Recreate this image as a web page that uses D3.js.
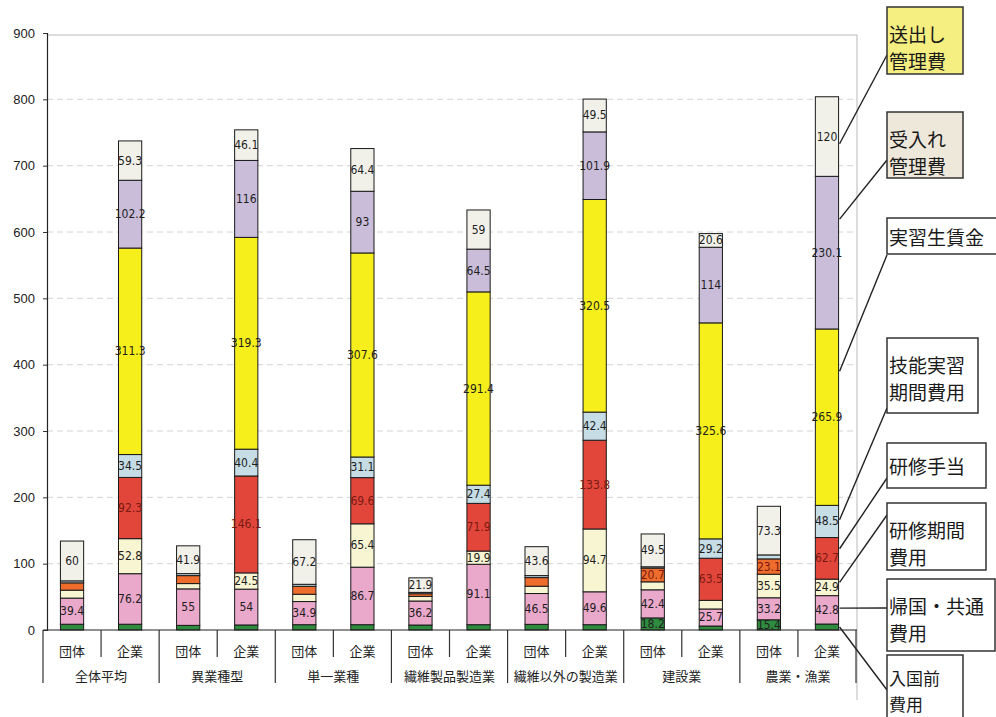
<!DOCTYPE html>
<html><head><meta charset="utf-8">
<script src="https://cdn.jsdelivr.net/npm/d3@7"></script>
<style>
html,body{margin:0;padding:0;background:#fff;}
svg{display:block;}
</style></head>
<body>
<svg id="chart" width="996" height="717"></svg>
<script>
// ---- data ----
const categories = ['全体平均','異業種型','単一業種','繊維製品製造業','繊維以外の製造業','建設業','農業・漁業'];
const subLabels = ['団体','企業'];
const seriesNames = ['入国前費用','帰国・共通費用','研修期間費用','研修手当','技能実習期間費用','実習生賃金','受入れ管理費','送出し管理費'];
const yTicks = [0,100,200,300,400,500,600,700,800,900];

const preEntry   = [8.7, 8.7, 7, 7.6, 8, 8, 7.5, 8, 8.5, 8, 18.2, 6, 15.4, 9];
const returnCost = [39.4, 76.2, 55, 54, 34.9, 86.7, 36.2, 91.1, 46.5, 49.6, 42.4, 25.7, 33.2, 42.8];
const trainCost  = [12, 52.8, 8, 24.5, 11, 65.4, 7, 19.9, 11, 94.7, 12, 13, 35.5, 24.9];
const allowance  = [11, 92.3, 12, 146.1, 12, 69.6, 4, 71.9, 13, 133.8, 20.7, 63.5, 23.1, 62.7];
const practCost  = [3, 34.5, 3, 40.4, 3, 31.1, 2, 27.4, 3, 42.4, 2, 29.2, 6, 48.5];
const wages      = [0, 311.3, 0, 319.3, 0, 307.6, 0, 291.4, 0, 320.5, 0, 325.6, 0, 265.9];
const recvMgmt   = [0, 102.2, 0, 116, 0, 93, 0, 64.5, 0, 101.9, 0, 114, 0, 230.1];
const sendMgmt   = [60, 59.3, 41.9, 46.1, 67.2, 64.4, 21.9, 59, 43.6, 49.5, 49.5, 20.6, 73.3, 120];

const seriesValues = [preEntry, returnCost, trainCost, allowance, practCost, wages, recvMgmt, sendMgmt];

// ---- styles / layout ----
const fills = ['#2f8c3e','#eaa8cb','#f8f5d2','#e2463b','#c6dde6','#f7ef1c','#c9bdd9','#f1f1ea'];
const allowanceOrange = '#ee6c2c';
const legendLines = [['入国前','費用'],['帰国・共通','費用'],['研修期間','費用'],['研修手当'],['技能実習','期間費用'],['実習生賃金'],['受入れ','管理費'],['送出し','管理費']];
const legendBoxes = [
  {top:655,bottom:722,w:76,fill:'#fff',endY:690,frac:0.5,l1:22,l2:48,fs:17},
  {top:579,bottom:651,w:108,fill:'#fff',endY:608,frac:0.56,l1:26,l2:53,fs:19},
  {top:503,bottom:570,w:99,fill:'#fff',endY:515,frac:0.8,l1:26,l2:53,fs:19},
  {top:443,bottom:488,w:99,fill:'#fff',endY:478,frac:0.73,fs:19},
  {top:338,bottom:413,w:91,fill:'#fff',endY:408,frac:0.55,l1:26,l2:53,fs:19},
  {top:218,bottom:254,w:112,fill:'#fff',endY:255,frac:0.76,fs:19},
  {top:112,bottom:178,w:76,fill:'#eee8da',endY:160,frac:0.72,l1:26,l2:53,fs:19},
  {top:7,bottom:74,w:76,fill:'#f4ef80',endY:55,frac:0.41,l1:26,l2:53,fs:19}
];

const svg = d3.select('#chart');
const left = 43, right = 856, plotLeft = 47, plotRight = 857;
const y = d3.scaleLinear().domain([0,900]).range([630,33]);
const nBars = categories.length * subLabels.length;
const x = d3.scaleBand().domain(d3.range(nBars)).range([left,right]).paddingInner(0.6).paddingOuter(0.3);

const rows = d3.range(nBars).map(i => {
  const r = {idx:i};
  seriesNames.forEach((s,k) => r[s] = seriesValues[k][i]);
  return r;
});
const stacked = d3.stack().keys(seriesNames)(rows);

// frame + grid
svg.append('g').selectAll('line').data(yTicks.filter(t=>t>0 && t<900)).join('line')
  .attr('x1',plotLeft).attr('x2',plotRight).attr('y1',d=>y(d)).attr('y2',d=>y(d))
  .attr('stroke','#d4d4d4').attr('stroke-width',1).attr('stroke-dasharray','6,4');
svg.append('line').attr('x1',plotLeft).attr('x2',plotRight).attr('y1',y(900)+2).attr('y2',y(900)+2)
  .attr('stroke','#b8b8b8').attr('stroke-width',1);
svg.append('line').attr('x1',plotRight).attr('x2',plotRight).attr('y1',y(900)+2).attr('y2',700)
  .attr('stroke','#b8b8b8').attr('stroke-width',1);

// y axis
const yAxis = svg.append('g').attr('transform',`translate(${plotLeft},0)`)
  .call(d3.axisLeft(y).tickValues(yTicks).tickSize(4).tickPadding(8));
yAxis.select('.domain').attr('stroke','#222').attr('stroke-width',1.2);
yAxis.selectAll('.tick line').attr('stroke','#333');
yAxis.selectAll('text').attr('font-family','Liberation Sans, Arial, sans-serif').attr('font-size',13).attr('fill','#222');

// bars
const segG = svg.append('g');
stacked.forEach((layer,k) => {
  layer.forEach((d,i) => {
    const v = d[1]-d[0];
    if (v <= 0) return;
    let fill = fills[k];
    if (k === 3 && i % 2 === 0) fill = allowanceOrange;
    segG.append('rect')
      .attr('x', x(i)).attr('width', x.bandwidth())
      .attr('y', y(d[1])).attr('height', y(d[0]) - y(d[1]))
      .attr('fill', fill).attr('stroke','#1a1a1a').attr('stroke-width',1);
  });
});
// labels
stacked.forEach((layer,k) => {
  layer.forEach((d,i) => {
    const v = d[1]-d[0];
    if (v < 15) return;
    segG.append('text')
      .attr('x', x(i) + x.bandwidth()/2)
      .attr('y', (y(d[0]) + y(d[1]))/2)
      .attr('text-anchor','middle').attr('dominant-baseline','central')
      .attr('font-family','Liberation Sans Narrow, Arial Narrow, DejaVu Sans Condensed, sans-serif')
      .attr('font-size',12)
      .attr('fill', k === 3 ? '#7a1a12' : '#1e1e1e')
      .text(String(seriesValues[k][i]));
  });
});

// x axis (two-level)
const gap = (x.step() - x.bandwidth())/2;
const boundary = i => x(i) - gap;
const xg = svg.append('g');
xg.append('line').attr('x1',left).attr('x2',plotRight).attr('y1',y(0)).attr('y2',y(0))
  .attr('stroke','#222').attr('stroke-width',1.2);
d3.range(0, nBars+1).forEach(i => {
  const bx = i < nBars ? boundary(i) : right;
  const isGroup = i % 2 === 0;
  xg.append('line').attr('x1',bx).attr('x2',bx).attr('y1',y(0)).attr('y2', isGroup ? 683 : 657)
    .attr('stroke','#333').attr('stroke-width',1.2);
});
d3.range(nBars).forEach(i => {
  xg.append('text').attr('x', x(i)+x.bandwidth()/2).attr('y',650)
    .attr('text-anchor','middle').attr('dominant-baseline','central')
    .attr('font-family','Noto Sans CJK JP, sans-serif').attr('font-size',13).attr('fill','#222')
    .text(subLabels[i%2]);
});
categories.forEach((c,g) => {
  const cx = (boundary(2*g) + (2*g+2 < nBars ? boundary(2*g+2) : right))/2;
  xg.append('text').attr('x', cx).attr('y',675)
    .attr('text-anchor','middle').attr('dominant-baseline','central')
    .attr('font-family','Noto Sans CJK JP, sans-serif').attr('font-size',13).attr('fill','#222')
    .text(c);
});

// legend with leader lines
const lastBar = nBars - 1;
const boxX = 887;
stacked.forEach((layer,k) => {
  const d = layer[lastBar];
  const lb = legendBoxes[k];
  const sy = y(d[0] + lb.frac*(d[1]-d[0]));
  svg.append('line').attr('x1', x(lastBar)+x.bandwidth()+1).attr('y1', sy)
    .attr('x2', boxX).attr('y2', lb.endY).attr('stroke','#222').attr('stroke-width',1.4);
  svg.append('rect').attr('x',boxX).attr('y',lb.top).attr('width',lb.w).attr('height',lb.bottom-lb.top)
    .attr('fill',lb.fill).attr('stroke','#333').attr('stroke-width',1.5);
  const lines = legendLines[k];
  lines.forEach((t,j) => {
    const cy = lines.length === 1 ? (lb.top+lb.bottom)/2 : lb.top + (j === 0 ? lb.l1 : lb.l2);
    svg.append('text').attr('x', boxX+2).attr('y', cy)
      .attr('dominant-baseline','central')
      .attr('font-family','Noto Sans CJK JP, sans-serif').attr('font-size',lb.fs).attr('fill','#1a1a1a')
      .text(t);
  });
});
</script>
</body></html>
